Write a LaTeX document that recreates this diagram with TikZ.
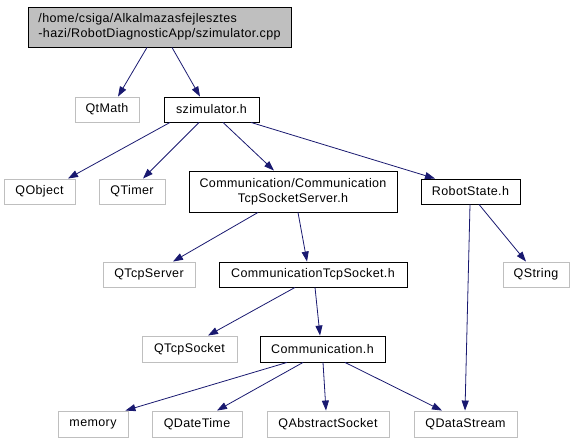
\documentclass[tikz,border=0pt]{standalone}
\usepackage{fontspec}
\setmainfont[LetterSpace=3]{Liberation Sans}
\usetikzlibrary{arrows.meta}
\definecolor{edgeblue}{RGB}{25,25,112}
\definecolor{sysgray}{RGB}{191,191,191}
\definecolor{rootfill}{RGB}{191,191,191}
\begin{document}
\begin{tikzpicture}[x=1pt,y=-1pt,
  every node/.style={inner sep=0pt, font=\fontsize{12.5}{15}\selectfont},
  hdr/.style={draw=black, line width=0.9pt, minimum height=25pt},
  sys/.style={draw=sysgray, line width=0.9pt, minimum height=25pt},
  dep/.style={draw=edgeblue, line width=0.8pt, -{Triangle[length=10pt,width=7pt]}}]
\useasboundingbox (0,0) rectangle (575,443);
\node[hdr, fill=rootfill, minimum width=263pt, minimum height=40pt, align=left] (root) at (159.5,27)
  {/home/csiga/Alkalmazasfejlesztes\\-hazi/RobotDiagnosticApp/szimulator.cpp};
\node[sys, minimum width=64pt] (qtmath) at (107,109.5) {QtMath};
\node[hdr, minimum width=95pt] (sz) at (211.5,109.5) {szimulator.h};
\node[sys, minimum width=71pt] (qobject) at (39.5,191.5) {QObject};
\node[sys, minimum width=66pt] (qtimer) at (132,191.5) {QTimer};
\node[hdr, minimum width=208pt, minimum height=41pt, align=center] (srv) at (293,191.5)
  {Communication/Communication\\TcpSocketServer.h};
\node[hdr, minimum width=99pt] (robot) at (470.5,191.5) {RobotState.h};
\node[sys, minimum width=92pt] (qtcpserver) at (149,274.5) {QTcpServer};
\node[hdr, minimum width=188pt] (cts) at (313,274.5) {CommunicationTcpSocket.h};
\node[sys, minimum width=66pt] (qstring) at (536,274.5) {QString};
\node[sys, minimum width=95pt, minimum height=26pt] (qtcpsocket) at (189.5,349) {QTcpSocket};
\node[hdr, minimum width=125pt, minimum height=26pt] (comm) at (322.5,349) {Communication.h};
\node[sys, minimum width=70pt, minimum height=26pt] (memory) at (93,424) {memory};
\node[sys, minimum width=90pt, minimum height=26pt] (qdatetime) at (197,424) {QDateTime};
\node[sys, minimum width=122pt, minimum height=26pt] (qabs) at (328,424) {QAbstractSocket};
\node[sys, minimum width=103pt, minimum height=26pt] (qds) at (465.5,424) {QDataStream};

\draw[dep] ([xshift=-12.5pt]root.south) -- ([xshift=11pt]qtmath.north);
\draw[dep] ([xshift=12.5pt]root.south) -- ([xshift=-11.5pt]sz.north);
\draw[dep] ([xshift=-41.5pt]sz.south) -- ([xshift=28.5pt]qobject.north);
\draw[dep] ([xshift=-12.5pt]sz.south) -- ([xshift=11pt]qtimer.north);
\draw[dep] ([xshift=11.5pt]sz.south) -- ([xshift=-19pt]srv.north);
\draw[dep] ([xshift=39.5pt]sz.south) -- ([xshift=-35.5pt]robot.north);
\draw[dep] ([xshift=-35pt]srv.south) -- ([xshift=24pt]qtcpserver.north);
\draw[dep] ([xshift=5pt]srv.south) -- ([xshift=-6pt]cts.north);
\draw[dep] ([xshift=8.5pt]robot.south) -- ([xshift=-10pt]qstring.north);
\draw[dep] ([xshift=-0.5pt]robot.south) -- ([xshift=-0.5pt]qds.north);
\draw[dep] ([xshift=-18pt]cts.south) -- ([xshift=18.5pt]qtcpsocket.north);
\draw[dep] ([xshift=2pt]cts.south) -- ([xshift=-2.5pt]comm.north);
\draw[dep] ([xshift=-35.5pt]comm.south) -- ([xshift=-3pt]memory.north east);
\draw[dep] ([xshift=-19.5pt]comm.south) -- ([xshift=20pt]qdatetime.north);
\draw[dep] ([xshift=0.5pt]comm.south) -- ([xshift=-2pt]qabs.north);
\draw[dep] ([xshift=22.5pt]comm.south) -- ([xshift=-23.5pt]qds.north);
\end{tikzpicture}
\end{document}
